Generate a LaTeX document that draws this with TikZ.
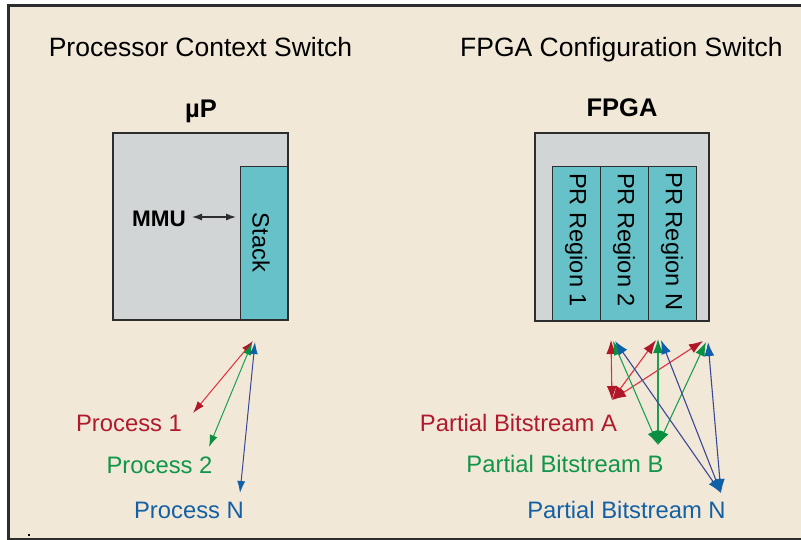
\documentclass[tikz,border=0pt]{standalone}
\usepackage{fontspec}
\setmainfont{Liberation Sans}
\usetikzlibrary{arrows.meta}

\definecolor{paper}{RGB}{242,232,216}
\definecolor{framecol}{RGB}{45,45,45}
\definecolor{chipgray}{RGB}{210,213,214}
\definecolor{teal}{RGB}{102,193,201}
\definecolor{redtext}{RGB}{176,26,44}
\definecolor{greentext}{RGB}{16,150,72}
\definecolor{bluetext}{RGB}{20,96,164}
\definecolor{redline}{RGB}{222,48,60}
\definecolor{greenline}{RGB}{28,160,80}
\definecolor{blueline}{RGB}{58,72,152}
\definecolor{redhead}{RGB}{176,24,42}
\definecolor{greenhead}{RGB}{10,144,64}
\definecolor{bluehead}{RGB}{16,96,168}

\tikzset{
  ttl/.style={font=\fontsize{26.5}{30}\selectfont, inner sep=0pt, anchor=base},
  chipname/.style={font=\bfseries\fontsize{25.5}{30}\selectfont, inner sep=0pt, anchor=base},
  lbl/.style={font=\fontsize{23.8}{28}\selectfont, inner sep=0pt, anchor=base},
  vlbl/.style={font=\fontsize{23.6}{28}\selectfont, inner sep=0pt, rotate=-90},
  chipfill/.style={fill=chipgray},
  chipedge/.style={draw=framecol, line width=2.2pt},
  cell/.style={fill=teal, draw=framecol, line width=0.9pt},
  smallarr/.style 2 args={draw=#1, line width=1pt,
    arrows={Latex[length=12pt,width=8pt,color=#2]-Latex[length=12pt,width=8pt,color=#2]}},
  bigarr/.style 2 args={draw=#1, line width=1.1pt,
    arrows={Latex[length=14pt,width=10pt,color=#2]-Latex[length=14pt,width=10pt,color=#2]}},
}

\begin{document}
\begin{tikzpicture}[x=1pt,y=-1pt]
\useasboundingbox (0,0) rectangle (801,540);

% page frame
\fill[paper] (8,6) rectangle (801,540);
\draw[framecol, line width=3pt] (801,6) -- (8,6) -- (8,539) -- (801,539);
\fill[black] (28,534) rectangle (30,536);

% titles
\node[ttl] (ttlcpu) at (200.5,57) {Processor Context Switch};
\node[ttl] (ttlfpga) at (621.5,57) {FPGA Configuration Switch};

% processor
\node[chipname] (upname) at (201,118) {µP};
\fill[chipfill] (113,133) rectangle (288,320);
\draw[cell] (240,166) rectangle (288,320);
\draw[chipedge] (113,133) rectangle (288,320);
\node[vlbl] (stack) at (261,242.5) {Stack};
\node[font=\bfseries\fontsize{22.5}{26}\selectfont, inner sep=0pt, anchor=base] (mmu) at (159,227) {MMU};
\coordinate (mmuR) at (192,217);
\coordinate (stackL) at (236,217);
\draw[framecol, line width=1.2pt, arrows={Latex[length=10pt,width=7pt]-Latex[length=10pt,width=7pt]}] (mmuR) -- (stackL);

% FPGA
\node[chipname] (fpganame) at (622,117) {FPGA};
\fill[chipfill] (535,133) rectangle (709,321);
\draw[cell] (552,166) rectangle (600,321);
\draw[cell] (600,166) rectangle (648,321);
\draw[cell] (648,166) rectangle (696,321);
\draw[chipedge] (535,133) rectangle (709,321);
\node[vlbl] (pr1) at (576,240) {PR Region 1};
\node[vlbl] (pr2) at (624,240) {PR Region 2};
\node[vlbl] (prn) at (672,241.5) {PR Region N};

% processes
\node[lbl, text=redtext] (proc1) at (129,431) {Process 1};
\node[lbl, text=greentext] (proc2) at (159.5,473) {Process 2};
\node[lbl, text=bluetext] (procn) at (189,518) {Process N};

\coordinate (sr) at (253,341);
\coordinate (sg) at (252,343);
\coordinate (sb) at (255,342);
\coordinate (p1) at (193,413);
\coordinate (p2) at (209,447);
\coordinate (pn) at (240,493);
\draw[smallarr={redline}{redhead}] (p1) -- (sr);
\draw[smallarr={greenline}{greenhead}] (p2) -- (sg);
\draw[smallarr={blueline}{bluehead}] (pn) -- (sb);

% partial bitstreams
\node[lbl, text=redtext] (bsa) at (518.5,431) {Partial Bitstream A};
\node[lbl, text=greentext] (bsb) at (565,472) {Partial Bitstream B};
\node[lbl, text=bluetext] (bsn) at (626.5,518) {Partial Bitstream N};

\coordinate (a) at (612,400);
\coordinate (b) at (658,445);
\coordinate (n) at (721,493);
\coordinate (r1) at (611,340);
\coordinate (g1) at (613,341);
\coordinate (b1) at (615,341);
\coordinate (r2) at (656,340);
\coordinate (g2) at (658,339);
\coordinate (b2) at (661,340);
\coordinate (r3) at (703,341);
\coordinate (g3) at (706,342);
\coordinate (b3) at (708,342);

\draw[bigarr={redline}{redhead}] (a) -- (r1);
\draw[bigarr={redline}{redhead}] (a) -- (r2);
\draw[bigarr={redline}{redhead}] (a) -- (r3);
\draw[bigarr={greenline}{greenhead}] (b) -- (g1);
\draw[bigarr={greenline}{greenhead}] (b) -- (g2);
\draw[bigarr={greenline}{greenhead}] (b) -- (g3);
\draw[bigarr={blueline}{bluehead}] (n) -- (b1);
\draw[bigarr={blueline}{bluehead}] (n) -- (b2);
\draw[bigarr={blueline}{bluehead}] (n) -- (b3);
\end{tikzpicture}
\end{document}
